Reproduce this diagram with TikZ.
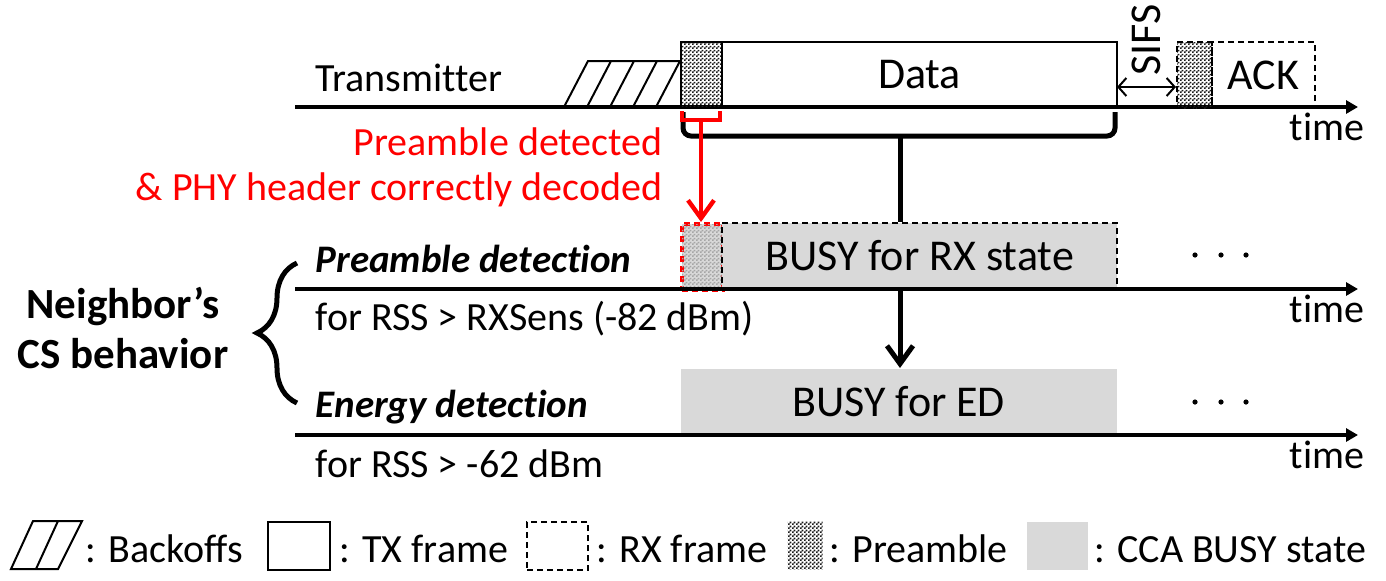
\documentclass[tikz,border=0pt]{standalone}
\usepackage{fontspec}
\setmainfont{Carlito}[Ligatures = {TeX, NoCommon}]
\usetikzlibrary{positioning, patterns, arrows.meta, decorations.pathreplacing}

% fine checker used for the preamble parts
\pgfdeclarepatternformonly{fine dots}{\pgfqpoint{0pt}{0pt}}{\pgfqpoint{2pt}{2pt}}{\pgfqpoint{2pt}{2pt}}{%
  \pgfpathrectangle{\pgfqpoint{0pt}{0pt}}{\pgfqpoint{1pt}{1pt}}%
  \pgfpathrectangle{\pgfqpoint{1pt}{1pt}}{\pgfqpoint{1pt}{1pt}}%
  \pgfusepath{fill}}

\begin{document}
\begin{tikzpicture}[x = 0.5pt, y = -0.5pt, % one unit is one pixel, y grows downwards
                > = {Straight Barb[length=9pt, width=13pt]}, % arrow head style
                font = \fontsize{20}{24}\selectfont,
                semithick % line style
            ]

            \tikzstyle{every node}=[inner sep = 0pt]
            \tikzstyle{axis}=[line width = 2pt, -{Triangle[length=6pt, width=6.5pt]}]
            \tikzstyle{frame}=[draw, line width = 1pt, anchor = north west,
            minimum height = 33pt]
            \tikzstyle{rxframe}=[frame, dash pattern = on 3pt off 2pt]
            \tikzstyle{pre}=[minimum width = 20.5pt, pattern = fine dots,
            pattern color = black!90]
            \tikzstyle{busy}=[fill = black!15, anchor = north west, minimum height = 33pt]
            \tikzstyle{lbl}=[font = \fontsize{22}{26}\selectfont]
            \tikzstyle{hint}=[red, anchor = base east]
            \tikzstyle{flow}=[line width = 2.5pt]
            \tikzstyle{bold}=[font = \fontsize{21.5}{25}\selectfont\bfseries, anchor = base]

            \useasboundingbox (0,0) rectangle (1386,580);

            % transmitter line
            \coordinate (a1) at (295,107); \coordinate (a1e) at (1358,107);
            \draw[axis] (a1) -- (a1e);
            \node[anchor = base west] (tx) at (315,91) {Transmitter};
            \node[anchor = base east] (time1) at (1365,140) {time};
            \draw[line width = 1pt] (564,107) -- (588,61) -- (680,61);
            \foreach \i in {1,...,4} \draw[line width = 1pt] (564+23*\i,107) -- (588+23*\i,61);

            \node[frame, pre] (txpre) at (680,41) {};
            \node[frame, lbl, minimum width = 197.5pt] (data) at (721,41) {Data};
            \node[rxframe, pre, minimum width = 17.5pt] (ackpre) at (1176,41) {};
            \node[rxframe, lbl, minimum width = 51.5pt] (ack) at (1211,41) {ACK};

            \coordinate (s0) at (1117,87); \coordinate (s1) at (1176,87);
            \draw[line width = 1pt, {Straight Barb[length=4pt, width=9pt]}-{Straight Barb[length=4pt, width=9pt]}]
            (s0) -- (s1);
            \node[lbl, rotate = 90, anchor = base west] (sifs) at (1160,76) {SIFS};

            % preamble detection line
            \coordinate (a2) at (295,289); \coordinate (a2e) at (1358,289);
            \node[busy, draw = red, line width = 2pt, dash pattern = on 3pt off 2pt,
            minimum width = 20.5pt, postaction = {pattern = fine dots,
            pattern color = black!35}] (rxpre) at (680,222) {};
            \node[busy, lbl, draw, line width = 1pt, dash pattern = on 3pt off 2pt,
            minimum width = 197.5pt] (rxbusy) at (721,222) {BUSY for RX state};
            \draw[axis] (a2) -- (a2e);
            \node[anchor = base west, font = \fontsize{19.5}{23}\selectfont\bfseries\itshape]
            (pd) at (315,272) {Preamble detection};
            \node[anchor = base west] (pdth) at (315,330) {for RSS > RXSens (-82 dBm)};
            \node[anchor = base east] (time2) at (1365,322) {time};

            % energy detection line
            \coordinate (a3) at (295,435); \coordinate (a3e) at (1358,435);
            \node[busy, lbl, minimum width = 218pt, minimum height = 32.5pt]
            (edbusy) at (680,368) {BUSY for ED};
            \draw[axis] (a3) -- (a3e);
            \node[anchor = base west, font = \fontsize{19.5}{23}\selectfont\bfseries\itshape]
            (ed) at (315,417) {Energy detection};
            \node[anchor = base west] (edth) at (315,477) {for RSS > -62 dBm};
            \node[anchor = base east] (time3) at (1365,468) {time};

            \foreach \x in {1195,1221,1246} {
                \fill (\x,255) circle (1.3pt);
                \fill (\x,402) circle (1.3pt);
            }

            % brace over the data frame
            \draw[flow, rounded corners = 4pt] (683,112) |- (1115,136) -- (1115,112);
            \coordinate (brc) at (900,136);
            \draw[flow] (brc) -- (brc |- rxbusy.north);
            \draw[flow, ->] (brc |- rxbusy.south) -- (brc |- edbusy.north);

            % preamble bracket
            \draw[red, line width = 2pt] (682,111) |- (720,120) -- (720,111);
            \coordinate (rbc) at (701,120);
            \draw[red, line width = 2.2pt, ->] (rbc) -- (rbc |- rxpre.north);
            \node[hint] (det1) at (663,155) {Preamble detected};
            \node[hint] (det2) at (663,200) {\& PHY header correctly decoded};

            % neighbour
            \node[bold] (nb1) at (123,318) {Neighbor's};
            \node[bold] (nb2) at (123,368) {CS behavior};
            \draw[decorate, decoration = {brace, amplitude = 20pt}, line width = 2.5pt]
            (297,403) -- (297,263);

            % legend
            \draw[line width = 1pt] (11,569) -- (33,521) -- (82,521) -- (58,569) -- cycle;
            \draw[line width = 1pt] (36,569) -- (58,521);
            \node[anchor = base west] (lg1) at (85,562) {: Backoffs};
            \node[frame, minimum width = 31pt, minimum height = 24pt] (lgtx) at (267,521) {};
            \node[anchor = base west] (lg2) at (339,562) {: TX frame};
            \node[rxframe, minimum width = 30.5pt, minimum height = 24pt] (lgrx) at (526,521) {};
            \node[anchor = base west] (lg3) at (596,562) {: RX frame};
            \node[pre, anchor = north west, minimum width = 17.5pt, minimum height = 24pt]
            (lgpre) at (787,521) {};
            \node[anchor = base west] (lg4) at (829,562) {: Preamble};
            \node[busy, minimum width = 30.5pt, minimum height = 24pt] (lgbusy) at (1026,521) {};
            \node[anchor = base west] (lg5) at (1094,562) {: CCA BUSY state};
        \end{tikzpicture}
\end{document}
